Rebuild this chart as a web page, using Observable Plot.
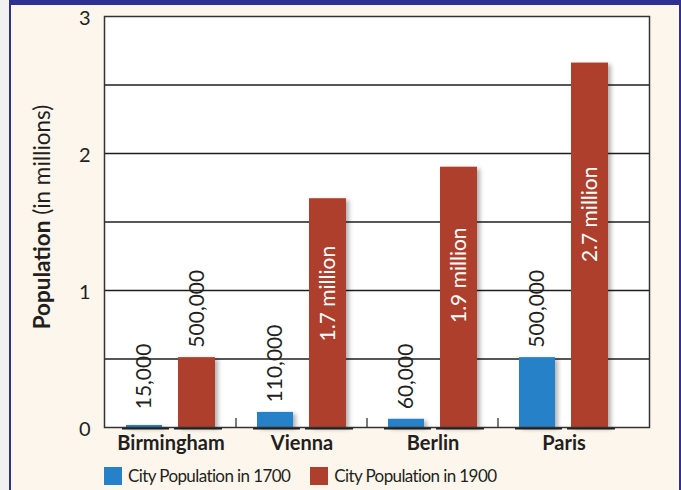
<!DOCTYPE html>
<html>
<head>
<meta charset="utf-8">
<script src="https://cdn.jsdelivr.net/npm/d3@7"></script>
<script src="https://cdn.jsdelivr.net/npm/@observablehq/plot@0.6"></script>
<style>
  html, body { margin: 0; padding: 0; background: #f1f1f1; width: 681px; height: 490px; overflow: hidden; font-family: Lato, "Open Sans", sans-serif; }
  #panel { position: absolute; left: 9px; top: 0; width: 672px; height: 490px; box-sizing: border-box;
           background: #fdf6ec; border-top: 5px solid #2e3192; border-left: 2px solid #2e3192; border-right: 2px solid #2e3192; }
  #chart { position: absolute; left: 0; top: 0; }
  #legend { position: absolute; left: 104px; top: 467px; display: flex; align-items: center; font-size: 17px; letter-spacing: -0.6px; color: #231f20; line-height: 18px; }
  .item { display: flex; align-items: center; }
  .sw { width: 18px; height: 18px; margin-right: 6px; display: inline-block; }
</style>
</head>
<body>
<div id="panel"></div>
<div id="chart"></div>
<div id="legend"></div>
<script>
const cities = ["Birmingham", "Vienna", "Berlin", "Paris"];
const pop1700 = [0.015, 0.11, 0.06, 0.51];
const pop1900 = [0.51, 1.67, 1.9, 2.66];
const labels1700 = ["15,000", "110,000", "60,000", "500,000"];
const labels1900 = ["500,000", "1.7 million", "1.9 million", "2.7 million"];
const seriesNames = ["City Population in 1700", "City Population in 1900"];
const yTicks = [0, 1, 2, 3];
const gridValues = [0.5, 1, 1.5, 2, 2.5];
const colors = ["#2681c8", "#ad3f2c"];

const d1700 = cities.map((c, i) => ({city: c, value: pop1700[i], label: labels1700[i]}));
const d1900 = cities.map((c, i) => ({city: c, value: pop1900[i], label: labels1900[i]}));

const outsideText = (data, dx) => Plot.text(data.filter(d => d.value < 1), {
  x: "city", y: d => Math.max(d.value, 0.06), text: "label", rotate: -90,
  textAnchor: "start", dy: -10, dx, fontSize: 21, fill: "#231f20"});
const insideText = (data, dx) => Plot.text(data.filter(d => d.value >= 1), {
  x: "city", y: d => d.value * 0.585, text: "label", rotate: -90,
  textAnchor: "middle", dx, fontSize: 21, fill: "white"});

const plot = Plot.plot({
  width: 681,
  height: 455,
  marginLeft: 104,
  marginRight: 32,
  marginTop: 16,
  marginBottom: 28,
  style: {background: "transparent", fontFamily: "Lato, sans-serif", color: "#231f20"},
  x: {type: "band", domain: cities, paddingInner: 0.318, paddingOuter: 0.2235, align: 0.356},
  y: {domain: [0, 3]},
  marks: [
    Plot.frame({fill: "white", stroke: "none"}),
    Plot.ruleY(gridValues, {stroke: "#1e1e1e", strokeWidth: 1.3}),
    Plot.ruleX(cities.slice(1), {x: d => d, dx: -66, y1: 0, y2: 0.066, stroke: "#222", strokeWidth: 1.2}),
    Plot.tickY(d1700, {x: "city", y: 0, dy: 1, insetLeft: -4, insetRight: 46, stroke: "#1e1e1e", strokeWidth: 2}),
    Plot.tickY(d1900, {x: "city", y: 0, dy: 1, insetLeft: 48, insetRight: -7, stroke: "#1e1e1e", strokeWidth: 2}),
    Plot.barY(d1700, {x: "city", y: "value", fill: colors[0], insetRight: 53}),
    Plot.barY(d1900, {x: "city", y: "value", fill: colors[1], insetLeft: 52}),
    outsideText(d1700, -26.5),
    outsideText(d1900, 26),
    insideText(d1900, 26),
    Plot.axisY({ticks: yTicks, tickSize: 0, tickPadding: 14, fontSize: 20, label: null, tickFormat: d => d, dy: 2}),
    Plot.axisX({tickSize: 0, tickPadding: 8, fontSize: 20, fontWeight: "bold", label: null}),
    Plot.frame({stroke: "#333", strokeWidth: 1.5})
  ]
});

document.getElementById("chart").appendChild(plot);
const svg = d3.select(plot);
svg.selectAll('g[aria-label="bar"] rect').style("filter", "drop-shadow(3px 2px 2px rgba(0,0,0,0.3))");

// y-axis title with bold and regular parts
const title = svg.append("text")
  .attr("transform", "translate(50,217) rotate(-90)")
  .attr("text-anchor", "middle")
  .attr("font-size", 22.5)
  .attr("fill", "#231f20")
  .attr("font-family", "Lato, sans-serif");
title.append("tspan").attr("font-weight", "bold").text("Population");
title.append("tspan").text(" (in millions)");

// legend
const legend = d3.select("#legend");
seriesNames.forEach((name, i) => {
  const item = legend.append("div").attr("class", "item").style("margin-right", i === 0 ? "20px" : "0");
  item.append("span").attr("class", "sw").style("background", colors[i]);
  item.append("span").text(name);
});
</script>
</body>
</html>
